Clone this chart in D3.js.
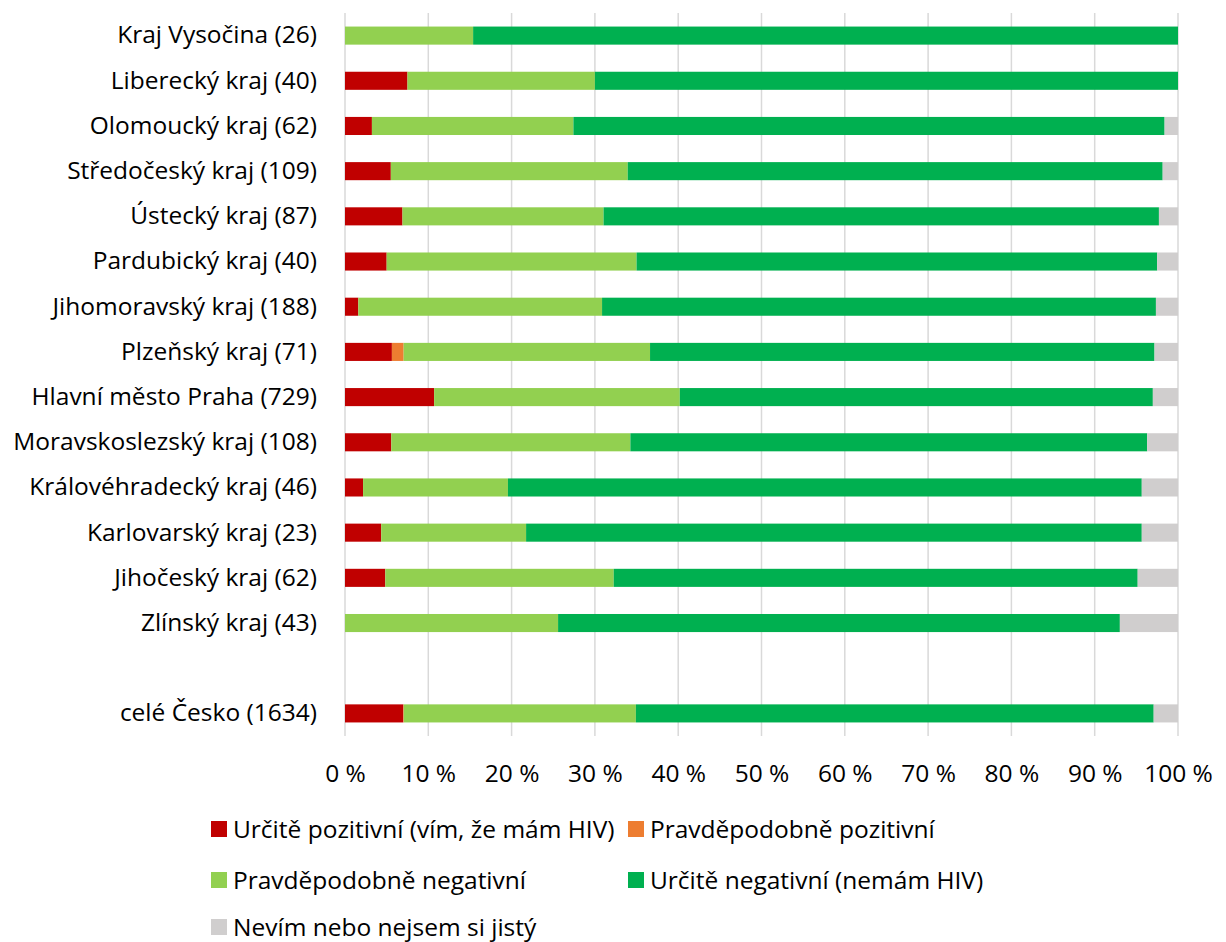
<!DOCTYPE html>
<html>
<head>
<meta charset="utf-8">
<script src="https://cdn.jsdelivr.net/npm/d3@7"></script>
<style>
  html, body { margin: 0; padding: 0; background: #fff; }
  svg { display: block; }
  text { font-family: "Open Sans", Lato, sans-serif; fill: #000; }
</style>
</head>
<body>
<svg id="chart" width="1226" height="942"></svg>
<script>
// ---- Data (percent of respondents) ----
const categories = [
  "Kraj Vysočina (26)", "Liberecký kraj (40)", "Olomoucký kraj (62)", "Středočeský kraj (109)",
  "Ústecký kraj (87)", "Pardubický kraj (40)", "Jihomoravský kraj (188)", "Plzeňský kraj (71)",
  "Hlavní město Praha (729)", "Moravskoslezský kraj (108)", "Královéhradecký kraj (46)",
  "Karlovarský kraj (23)", "Jihočeský kraj (62)", "Zlínský kraj (43)", "", "celé Česko (1634)"
];
const seriesNames = [
  "Určitě pozitivní (vím, že mám HIV)", "Pravděpodobně pozitivní",
  "Pravděpodobně negativní", "Určitě negativní (nemám HIV)", "Nevím nebo nejsem si jistý"
];
const surePositive     = [0, 7.50, 3.23, 5.50, 6.90, 5.00, 1.60, 5.63, 10.70, 5.56, 2.17, 4.35, 4.84, 0, 0, 7.00];
const probablePositive = [0, 0, 0, 0, 0, 0, 0, 1.41, 0, 0, 0, 0, 0, 0, 0, 0.06];
const probableNegative = [15.38, 22.50, 24.19, 28.44, 24.14, 30.00, 29.26, 29.58, 29.49, 28.70, 17.39, 17.39, 27.42, 25.58, 0, 27.86];
const sureNegative     = [84.62, 70.00, 70.97, 64.22, 66.67, 62.50, 66.49, 60.56, 56.79, 62.04, 76.09, 73.91, 62.90, 67.44, 0, 62.16];
const unknown          = [0, 0, 1.61, 1.83, 2.30, 2.50, 2.66, 2.82, 3.02, 3.70, 4.35, 4.35, 4.84, 6.98, 0, 2.92];
const xTicks = [0, 10, 20, 30, 40, 50, 60, 70, 80, 90, 100];
const colors = ["#C00000", "#ED7D31", "#92D050", "#00B050", "#D0CECE"];

// ---- Build table ----
const keys = ["s0", "s1", "s2", "s3", "s4"];
const seriesValues = [surePositive, probablePositive, probableNegative, sureNegative, unknown];
const rows = categories.map((c, i) => {
  const r = { cat: c === "" ? "__blank__" : c };
  keys.forEach((k, j) => r[k] = seriesValues[j][i]);
  return r;
});
const stacked = d3.stack().keys(keys)(rows);

const svg = d3.select("#chart");
const plot = { left: 345, right: 1178, top: 13, bottom: 736 };

const x = d3.scaleLinear().domain([0, 100]).range([plot.left, plot.right]);
const y = d3.scaleBand().domain(rows.map(r => r.cat))
  .range([plot.top, plot.bottom]).paddingInner(0.6).paddingOuter(0.3);

const FS = 24.5;
const FF = "'Open Sans', Lato, sans-serif";

// gridlines
svg.append("g").selectAll("line").data(xTicks).join("line")
  .attr("x1", d => x(d)).attr("x2", d => x(d))
  .attr("y1", plot.top).attr("y2", plot.bottom)
  .attr("stroke", "#d9d9d9").attr("stroke-width", 1.5);

// bars
svg.append("g").selectAll("g").data(stacked).join("g")
  .attr("fill", (d, i) => colors[i])
  .selectAll("rect").data(d => d.filter(v => v[1] - v[0] > 0)).join("rect")
  .attr("x", d => x(d[0]))
  .attr("width", d => x(d[1]) - x(d[0]))
  .attr("y", d => y(d.data.cat))
  .attr("height", y.bandwidth());

// category axis labels
const yAxis = d3.axisLeft(y).tickSize(0).tickPadding(28)
  .tickFormat(d => d === "__blank__" ? "" : d);
const gy = svg.append("g").attr("transform", `translate(${plot.left},0)`).call(yAxis);
gy.select(".domain").remove();
gy.selectAll("text").attr("font-size", FS).attr("font-family", FF).attr("fill", "#000");

// x axis labels
const xAxis = d3.axisBottom(x).tickValues(xTicks).tickSize(0).tickPadding(0)
  .tickFormat(d => d + " %");
const gx = svg.append("g").attr("transform", `translate(0,${plot.bottom})`).call(xAxis);
gx.select(".domain").remove();
gx.selectAll("text").attr("font-size", FS).attr("font-family", FF)
  .attr("fill", "#000").attr("dy", null).attr("y", 46);

// legend
const legendPos = [
  { x: 211, y: 829 }, { x: 628, y: 829 },
  { x: 211, y: 880 }, { x: 628, y: 880 },
  { x: 211, y: 927 }
];
const lg = svg.append("g").selectAll("g").data(seriesNames).join("g")
  .attr("transform", (d, i) => `translate(${legendPos[i].x},${legendPos[i].y})`);
lg.append("rect").attr("x", 0).attr("y", -8).attr("width", 16).attr("height", 16)
  .attr("fill", (d, i) => colors[i]);
lg.append("text").attr("x", 22).attr("y", 8.5).attr("font-size", FS).attr("font-family", FF).text(d => d);
</script>
</body>
</html>
